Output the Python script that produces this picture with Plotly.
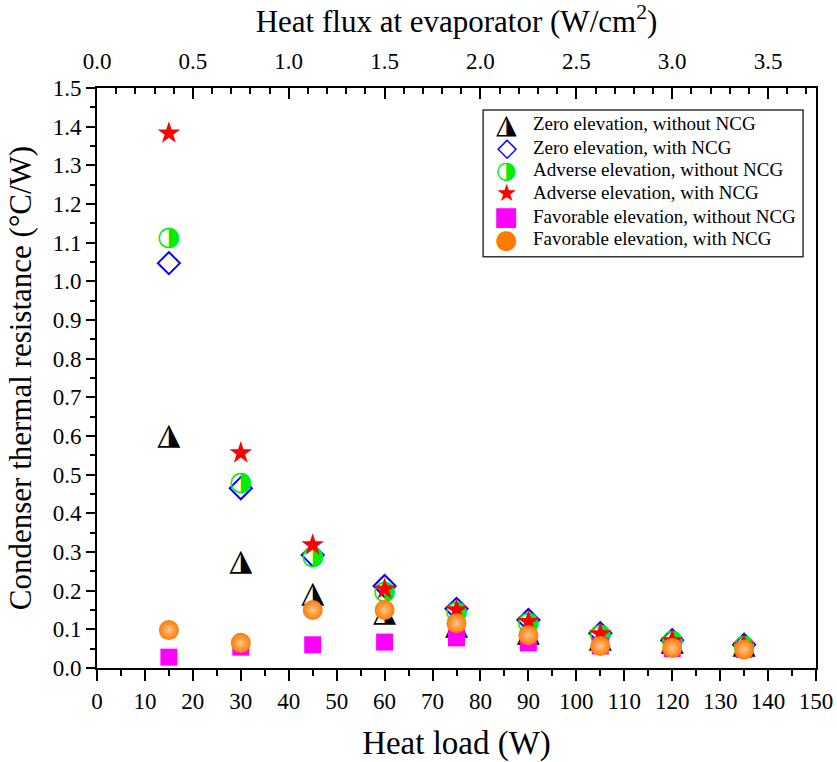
import plotly.graph_objects as go

# ---------------- data ----------------
loads = [15, 30, 45, 60, 75, 90, 105, 120, 135]  # Heat load (W)
zero_without = [0.600, 0.274, 0.190, 0.140, 0.108, 0.088, 0.075, 0.065, 0.058]
zero_with = [1.047, 0.465, 0.292, 0.212, 0.153, 0.124, 0.090, 0.072, 0.060]
adverse_without = [1.112, 0.478, 0.287, 0.197, 0.145, 0.115, 0.085, 0.068, 0.057]
adverse_with = [1.383, 0.556, 0.318, 0.204, 0.150, 0.120, 0.088, 0.070, 0.058]
favorable_without = [0.028, 0.054, 0.060, 0.067, 0.078, 0.065, 0.057, 0.050, 0.048]
favorable_with = [0.098, 0.065, 0.150, 0.150, 0.116, 0.085, 0.057, 0.052, 0.048]

series_names = [
    "Zero elevation, without NCG",
    "Zero elevation, with NCG",
    "Adverse elevation, without NCG",
    "Adverse elevation, with NCG",
    "Favorable elevation, without NCG",
    "Favorable elevation, with NCG",
]
EVAP_AREA_CM2 = 40.0  # heat flux = load / area
X_RANGE = [0, 150]
Y_RANGE = [0, 1.5]

SERIF = "Liberation Serif"
GLYPH = "DejaVu Sans"
BLUE = "#0000ff"
GREEN = "#00ee00"
RED = "#ff0000"
MAGENTA = "#ff00ff"
ORANGE = "#ff7a00"

fig = go.Figure()

n = len(loads)
# Zero elevation without NCG: half-filled triangle
fig.add_trace(go.Scatter(
    x=loads, y=zero_without, mode="text", text=["\u25ee"] * n,
    textposition="middle center",
    textfont=dict(family=GLYPH, size=30, color="black"),
    name=series_names[0], showlegend=False, hoverinfo="x+y"))
# Zero elevation with NCG: open diamond
fig.add_trace(go.Scatter(
    x=loads, y=zero_with, mode="markers",
    marker=dict(symbol="diamond-open", size=17, color=BLUE, line=dict(width=2, color=BLUE)),
    name=series_names[1], showlegend=False))
# Adverse elevation without NCG: half-filled circle
fig.add_trace(go.Scatter(
    x=loads, y=adverse_without, mode="text", text=["\u25d1"] * n,
    textposition="middle center",
    textfont=dict(family=GLYPH, size=27, color=GREEN),
    name=series_names[2], showlegend=False, hoverinfo="x+y"))
# Adverse elevation with NCG: star
fig.add_trace(go.Scatter(
    x=loads, y=adverse_with, mode="markers",
    marker=dict(symbol="star", size=17, color=RED, line=dict(width=0)),
    name=series_names[3], showlegend=False))
# Favorable elevation without NCG: square
fig.add_trace(go.Scatter(
    x=loads, y=favorable_without, mode="markers",
    marker=dict(symbol="square", size=17, color=MAGENTA, line=dict(width=0)),
    name=series_names[4], showlegend=False))
# Favorable elevation with NCG: shaded sphere
fig.add_trace(go.Scatter(
    x=loads, y=favorable_with, mode="markers",
    marker=dict(symbol="circle", size=20, color=ORANGE, line=dict(width=0),
                gradient=dict(type="radial", color="#ffc48c")),
    name=series_names[5], showlegend=False))
# invisible trace carrying the top (heat flux) axis
fig.add_trace(go.Scatter(
    x=[v / EVAP_AREA_CM2 for v in loads], y=zero_with, xaxis="x2",
    mode="markers", marker=dict(size=1, opacity=0), showlegend=False, hoverinfo="skip"))

axis_font = dict(family=SERIF, size=23, color="black")

fig.update_layout(
    width=837, height=762,
    margin=dict(l=97, r=21, t=88, b=94),
    paper_bgcolor="white", plot_bgcolor="white",
    font=dict(family=SERIF, color="black"),
    xaxis=dict(
        range=X_RANGE, dtick=10, tick0=0, automargin=False,
        showgrid=False, zeroline=False,
        showline=True, linecolor="black", linewidth=2,
        ticks="outside", ticklen=11, tickwidth=2, tickcolor="black",
        minor=dict(dtick=5, ticks="outside", ticklen=6, tickwidth=2, tickcolor="black"),
        tickfont=axis_font,
        title=dict(text="Heat load (W)", font=dict(family=SERIF, size=33), standoff=19),
    ),
    xaxis2=dict(
        overlaying="x", side="top", anchor="y", automargin=False,
        range=[X_RANGE[0] / EVAP_AREA_CM2, X_RANGE[1] / EVAP_AREA_CM2],
        dtick=0.5, tick0=0, tickformat=".1f",
        showgrid=False, zeroline=False,
        showline=True, linecolor="black", linewidth=2,
        ticks="inside", ticklen=11, tickwidth=2, tickcolor="black",
        minor=dict(dtick=0.1, ticks="inside", ticklen=6, tickwidth=2, tickcolor="black"),
        tickfont=axis_font, ticklabelstandoff=8,
        title=dict(text="Heat flux at evaporator (W/cm<sup>2</sup>)",
                   font=dict(family=SERIF, size=31), standoff=8),
    ),
    yaxis=dict(
        range=Y_RANGE, dtick=0.1, tick0=0, tickformat=".1f", automargin=False,
        showgrid=False, zeroline=False,
        showline=True, linecolor="black", linewidth=2, mirror=True,
        ticks="outside", ticklen=9, tickwidth=2, tickcolor="black",
        minor=dict(dtick=0.05, ticks="outside", ticklen=5, tickwidth=2, tickcolor="black"),
        tickfont=axis_font,
        title=dict(text="Condenser thermal resistance (\u00b0C/W)",
                   font=dict(family=SERIF, size=31), standoff=12),
    ),
)

# ---------------- custom legend ----------------
legend_box = dict(x0=0.537, x1=0.982, y0=0.709, y1=0.962)
fig.add_shape(type="rect", xref="paper", yref="paper", **legend_box,
              line=dict(color="#333333", width=1.5), fillcolor="white", layer="above")

row_y = [0.938, 0.898, 0.859, 0.819, 0.779, 0.740]
sym_x = 0.570
text_x = 0.604
legend_symbols = [
    ("\u25ee", "black", 27),
    ("\u25c7", BLUE, 26),
    ("\u25d1", GREEN, 24),
    ("\u2605", RED, 24),
    ("\u25a0", MAGENTA, 26),
    ("\u25cf", ORANGE, 26),
]
for (glyph, color, size), ry, name in zip(legend_symbols, row_y, series_names):
    fig.add_annotation(xref="paper", yref="paper", x=sym_x, y=ry, text=glyph,
                       showarrow=False, xanchor="center", yanchor="middle",
                       font=dict(family=GLYPH, size=size, color=color))
    fig.add_annotation(xref="paper", yref="paper", x=text_x, y=ry, text=name,
                       showarrow=False, xanchor="left", yanchor="middle",
                       font=dict(family=SERIF, size=19, color="black"))

fig.write_html("out.html")
